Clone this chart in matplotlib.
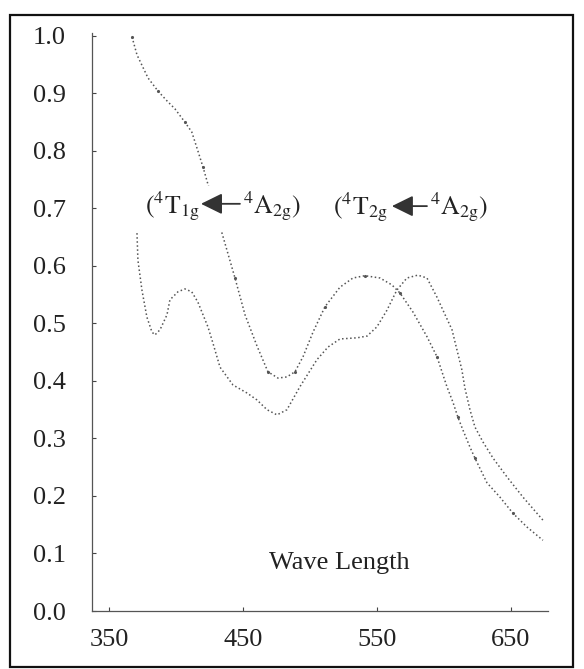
import matplotlib.pyplot as plt
from matplotlib.patches import Rectangle

plt.rcParams["font.family"] = ["Liberation Serif", "DejaVu Serif"]
plt.rcParams["mathtext.fontset"] = "stix"

# ---------------------- Data ----------------------
# curve with the steep rise towards 350 nm (upper at left)
wave_a = [366.9, 370.6, 378.8, 386.3, 393.0, 399.0, 406.4, 411.5, 415.4, 419.9,
          434.1, 437.1, 443.8, 451.3, 460.2, 468.4, 475.9, 482.6, 488.6, 494.6,
          502.1, 511.0, 522.2, 531.9, 540.9, 552.1, 561.0, 567.0, 576.7, 587.2,
          594.7, 602.1, 606.6, 610.3, 614.0, 619.3, 623.0, 632.0, 641.7, 651.4,
          661.9, 673.8]
abs_a = [0.998, 0.967, 0.927, 0.904, 0.887, 0.873, 0.850, 0.833, 0.805, 0.772,
         0.657, 0.633, 0.579, 0.515, 0.461, 0.416, 0.405, 0.407, 0.416, 0.442,
         0.485, 0.529, 0.563, 0.579, 0.583, 0.579, 0.567, 0.553, 0.520, 0.477,
         0.442, 0.390, 0.363, 0.337, 0.315, 0.285, 0.266, 0.223, 0.198, 0.170,
         0.146, 0.123]

# curve with the small band near 405 nm (lower at left)
wave_b = [370.6, 371.3, 374.3, 378.0, 381.8, 384.0, 387.8, 393.0, 395.2, 401.2,
          406.4, 411.5, 416.1, 423.6, 427.3, 432.6, 442.3, 452.8, 460.2, 467.7,
          475.2, 482.6, 492.3, 505.0, 513.3, 522.2, 534.9, 542.4, 549.8, 557.3,
          564.7, 572.2, 580.4, 587.2, 594.6, 605.9, 609.6, 613.3, 615.5, 619.3,
          623.0, 629.0, 636.5, 647.0, 658.9, 673.8]
abs_b = [0.657, 0.610, 0.558, 0.511, 0.485, 0.480, 0.489, 0.515, 0.541, 0.555,
         0.560, 0.555, 0.537, 0.494, 0.466, 0.424, 0.393, 0.379, 0.367, 0.350,
         0.341, 0.350, 0.390, 0.437, 0.459, 0.473, 0.475, 0.478, 0.494, 0.523,
         0.558, 0.579, 0.584, 0.579, 0.546, 0.489, 0.454, 0.419, 0.388, 0.350,
         0.320, 0.294, 0.266, 0.233, 0.198, 0.158]

x_ticks = [350, 450, 550, 650]
y_ticks = [0.0, 0.1, 0.2, 0.3, 0.4, 0.5, 0.6, 0.7, 0.8, 0.9, 1.0]

# ---------------------- Figure ----------------------
fig = plt.figure(figsize=(5.84, 6.69), dpi=100)
ax = fig.add_axes([92 / 584, 58 / 669, 456 / 584, 578 / 669])

ax.plot(wave_a, abs_a, linestyle=":", color="#555555", linewidth=1.1,
        marker=".", markersize=2.5, markevery=3)
ax.plot(wave_b, abs_b, linestyle=":", color="#555555", linewidth=1.1)

ax.set_xlim(337.0, 677.6)
ax.set_ylim(0, 1.005)
ax.set_xticks(x_ticks)
ax.set_xticklabels([str(v) for v in x_ticks])
ax.set_yticks(y_ticks)
ax.set_yticklabels([f"{v:.1f}" for v in y_ticks])
ax.tick_params(axis="both", direction="in", length=3, width=0.8, colors="#444444",
               labelsize=19, labelcolor="#222222")
ax.tick_params(axis="x", pad=13)
ax.tick_params(axis="y", pad=19)

for side in ["top", "right"]:
    ax.spines[side].set_visible(False)
for side in ["left", "bottom"]:
    ax.spines[side].set_color("#555555")
    ax.spines[side].set_linewidth(0.9)

# axis caption inside the plot
ax.text(522, 0.083, "Wave Length", fontsize=19, color="#222222",
        ha="center", va="center")

# white box behind the left label hides the curves there (as in the scan)
ax.add_patch(Rectangle((361.7, 0.659), 138.0, 0.080, facecolor="white",
                       edgecolor="none", zorder=3))

# transition labels with arrows
arrow_style = dict(arrowstyle="-|>,head_length=0.65,head_width=0.32",
                   color="#333333", lw=1.3, mutation_scale=20,
                   shrinkA=0, shrinkB=0)

ax.text(376.5, 0.692, r"$(^4\mathrm{T}_{\mathrm{1g}}$", fontsize=18.5,
        color="#222222", ha="left", va="baseline", zorder=4)
ax.annotate("", xy=(418.4, 0.708), xytext=(447.5, 0.708), arrowprops=arrow_style,
            zorder=4)
ax.text(449.8, 0.692, r"$^4\mathrm{A}_{\mathrm{2g}})$", fontsize=18.5,
        color="#222222", ha="left", va="baseline", zorder=4)

ax.text(517.0, 0.689, r"$(^4\mathrm{T}_{\mathrm{2g}}$", fontsize=18.5,
        color="#222222", ha="left", va="baseline", zorder=4)
ax.annotate("", xy=(561.0, 0.704), xytext=(587.2, 0.704), arrowprops=arrow_style,
            zorder=4)
ax.text(589.4, 0.689, r"$^4\mathrm{A}_{\mathrm{2g}})$", fontsize=18.5,
        color="#222222", ha="left", va="baseline", zorder=4)

# outer frame of the scanned figure
fig.patches.append(Rectangle((10 / 584, 2 / 669), 563 / 584, 652 / 669,
                             transform=fig.transFigure, fill=False,
                             edgecolor="#111111", linewidth=1.6))

fig.savefig("out.png", dpi=100)
